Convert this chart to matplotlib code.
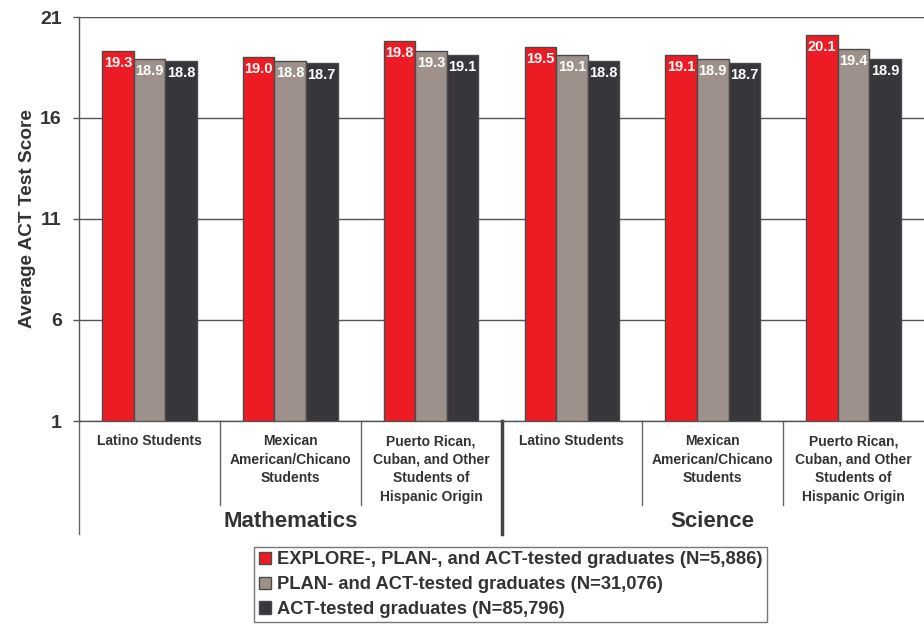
import numpy as np
import matplotlib.pyplot as plt
from matplotlib.patches import Patch

subjects = ['Mathematics', 'Science']
groups = ['Latino Students', 'Mexican\nAmerican/Chicano\nStudents',
          'Puerto Rican,\nCuban, and Other\nStudents of\nHispanic Origin']
series = ['EXPLORE-, PLAN-, and ACT-tested graduates (N=5,886)',
          'PLAN- and ACT-tested graduates (N=31,076)',
          'ACT-tested graduates (N=85,796)']
explore_plan_act = [19.3, 19.0, 19.8, 19.5, 19.1, 20.1]
plan_act = [18.9, 18.8, 19.3, 19.1, 18.9, 19.4]
act_only = [18.8, 18.7, 19.1, 18.8, 18.7, 18.9]
yticks = [1, 6, 11, 16, 21]

colors = ['#ED1C24', '#9E918C', '#38363B']
edge = '#4a4a4a'
txt = '#333333'

plt.rcParams['font.family'] = ['Liberation Sans', 'DejaVu Sans']

fig = plt.figure(figsize=(9.24, 6.25), dpi=100)
ax = fig.add_axes([0.0855, 0.3264, 0.9145, 0.6464])

n = len(explore_plan_act)
x = np.arange(n)
w = 0.224
base = 1
for k, vals in enumerate([explore_plan_act, plan_act, act_only]):
    xs = x + (k - 1) * w
    heights = np.array(vals) - base
    ax.bar(xs, heights, width=w, bottom=base, color=colors[k], edgecolor=edge,
           linewidth=1, zorder=3)
    for xi, v in zip(xs, vals):
        ax.annotate(f'{v:.1f}', (xi, v), xytext=(0, -3.5), textcoords='offset points',
                    ha='center', va='top', color='white', fontsize=10.5,
                    fontweight='bold', zorder=4)

ax.set_xlim(-0.5, n - 0.5)
ax.set_ylim(1, 21)
ax.set_yticks(yticks)
ax.set_yticklabels([str(t) for t in yticks], fontsize=14, fontweight='bold', color=txt)
ax.set_xticks([])
ax.yaxis.grid(True, color='#555555', linewidth=1, zorder=0)
ax.tick_params(axis='y', length=4.5, color='#555555', width=1, pad=8)
for s in ['top', 'right']:
    ax.spines[s].set_visible(False)
for s in ['left', 'bottom']:
    ax.spines[s].set_color('#555555')
    ax.spines[s].set_linewidth(1)
ax.set_ylabel('Average ACT Test Score', fontsize=13.7, fontweight='bold', color=txt, labelpad=3)

# category labels and separators below the axis
trans = ax.get_xaxis_transform()
for i in range(n):
    ax.text(i, -0.033, groups[i % 3], transform=trans, ha='center', va='top',
            fontsize=10, fontweight='bold', color=txt, linespacing=1.4)
for i in range(1, n):
    if i == 3:
        ax.plot([i - 0.5, i - 0.5], [0, -0.28], transform=trans, color='#444444',
                linewidth=2.5, clip_on=False)
    else:
        ax.plot([i - 0.5, i - 0.5], [0, -0.208], transform=trans, color='#666666',
                linewidth=1, clip_on=False)
ax.plot([-0.5, -0.5], [0, -0.28], transform=trans, color='#666666',
        linewidth=1, clip_on=False)
for j, subj in enumerate(subjects):
    ax.text(j * 3 + 1, -0.248, subj, transform=trans, ha='center', va='center',
            fontsize=16, fontweight='bold', color=txt)

handles = [Patch(facecolor=colors[k], edgecolor=edge, linewidth=1) for k in range(3)]
leg = fig.legend(handles, series, loc='upper center', bbox_to_anchor=(0.553, 0.125),
                 frameon=True, fancybox=False, edgecolor='#555555',
                 prop={'weight': 'bold', 'size': 13.2}, handlelength=0.65,
                 handleheight=0.65, handletextpad=0.35, labelspacing=0.42,
                 borderpad=0.25, borderaxespad=0)
for t in leg.get_texts():
    t.set_color(txt)

fig.savefig('out.png', dpi=100)
